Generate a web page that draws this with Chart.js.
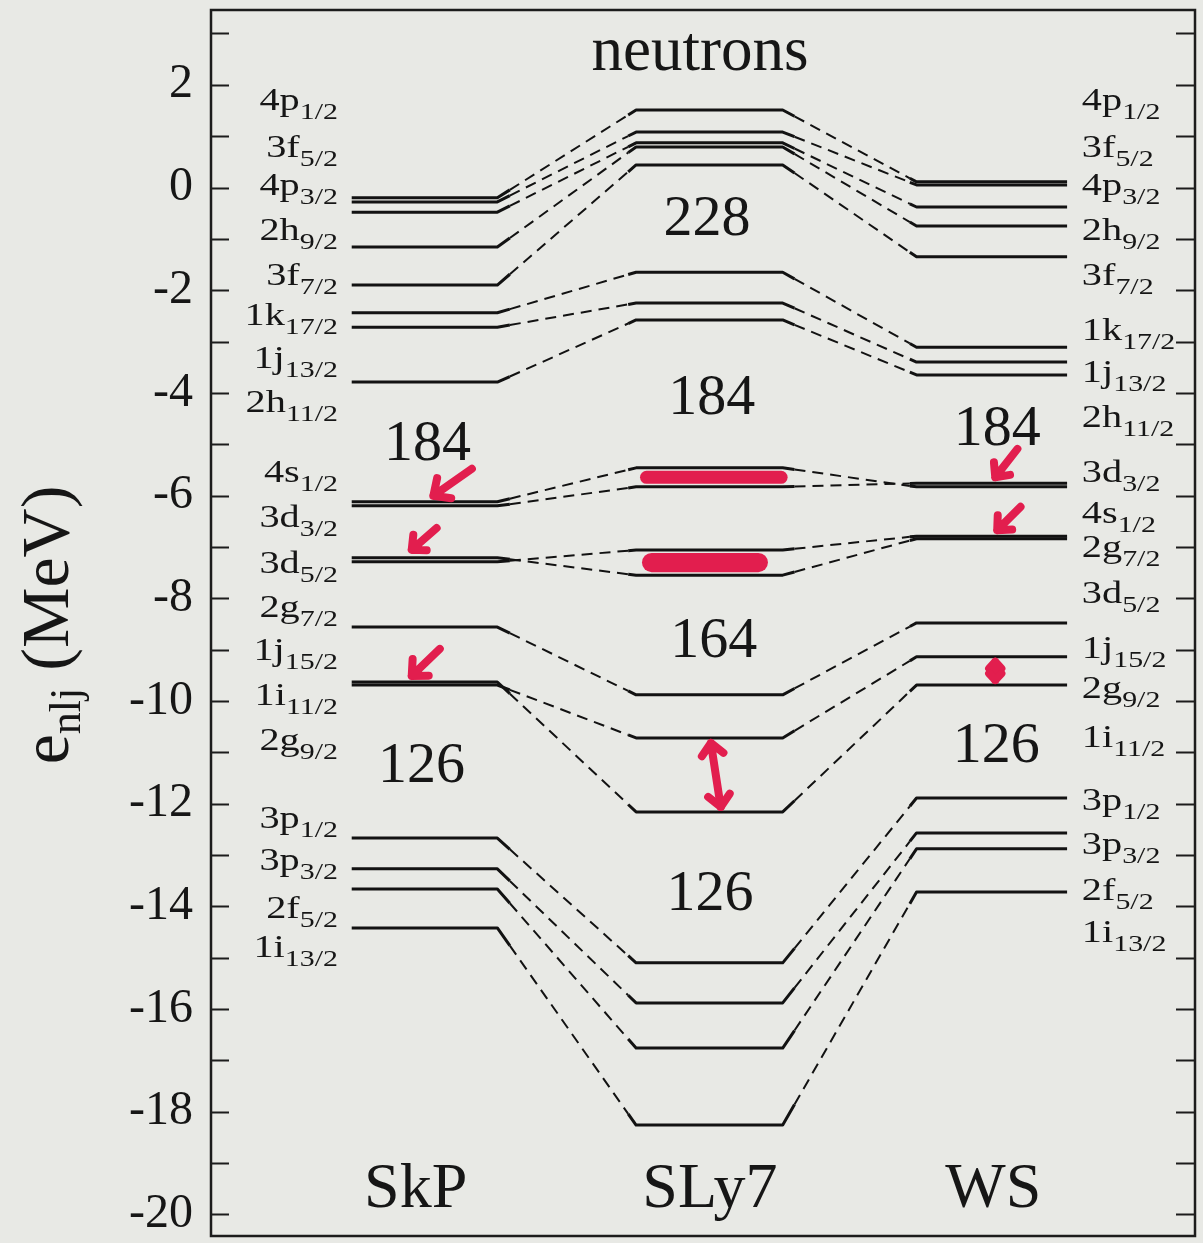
<!DOCTYPE html>
<html>
<head>
<meta charset="utf-8">
<title>Neutron single-particle levels</title>
<script src="https://cdn.jsdelivr.net/npm/chart.js@4.4.1/dist/chart.umd.min.js"></script>
<style>
  html, body { margin: 0; padding: 0; background: #e8e9e5; }
  #wrap { width: 1203px; height: 1243px; position: relative; }
</style>
</head>
<body>
<div id="wrap"><canvas id="c"></canvas></div>
<script>
// ---- data: neutron single-particle energies e_nlj (MeV) ----
const models = ['SkP', 'SLy7', 'WS'];
const orbitals = ['4p1/2', '3f5/2', '4p3/2', '2h9/2', '3f7/2', '1k17/2', '1j13/2', '2h11/2',
                  '4s1/2', '3d3/2', '3d5/2', '2g7/2', '1j15/2', '1i11/2', '2g9/2',
                  '3p1/2', '3p3/2', '2f5/2', '1i13/2'];
const eSkP  = [-0.20, -0.28, -0.48, -1.16, -1.90, -2.44, -2.72, -3.79,
               -6.12, -6.20, -7.21, -7.29, -8.56, -9.63, -9.69,
               -12.67, -13.27, -13.66, -14.42];
const eSLy7 = [1.51, 1.08, 0.87, 0.79, 0.44, -1.65, -2.25, -2.58,
               -5.46, -5.83, -7.55, -7.06, -9.88, -12.16, -10.72,
               -15.10, -15.88, -16.76, -18.26];
const eWS   = [0.11, 0.05, -0.38, -0.75, -1.35, -3.11, -3.40, -3.65,
               -5.83, -5.76, -6.84, -6.79, -8.48, -9.69, -9.14,
               -11.89, -12.57, -12.88, -13.72];
// shell-gap particle numbers written in each column
const gapsSkP  = ['184', '126'];
const gapsSLy7 = ['228', '184', '164', '126'];
const gapsWS   = ['184', '126'];
// labelled axis values
const yTicks = [2, 0, -2, -4, -6, -8, -10, -12, -14, -16, -18, -20];
const yRange = [-20.42, 3.457];

// ---- layout ----
const energies = { SkP: eSkP, SLy7: eSLy7, WS: eWS };
const gaps = { SkP: gapsSkP, SLy7: gapsSLy7, WS: gapsWS };
const COL = { SkP: [1.43, 2.91], SLy7: [4.32, 5.81], WS: [7.17, 8.70] };   // level extents (x units)
const KINK = [[0.09, 0.057], [0.088, 0.05]];                                // bent ends, fraction of connector
const DASHED = [2, 6];                                                      // connector segments
const GAP_AT = {
  SkP:  [[2.20, -5.31], [2.14, -11.58]],
  SLy7: [[5.04, -0.93], [5.09, -4.41], [5.11, -9.14], [5.07, -14.07]],
  WS:   [[7.99, -5.01], [7.98, -11.19]]
};
const NAME_AT = { SkP: 2.08, SLy7: 5.07, WS: 7.95 };
const NAME_E = -19.85;
const TITLE_AT = [4.97, 2.29];
const LEFT_SLOTS  = [1.51, 0.59, -0.15, -1.02, -1.90, -2.68, -3.52, -4.37, -5.74, -6.61, -7.51,
                     -8.36, -9.20, -10.08, -10.95, -12.47, -13.29, -14.23, -14.99];
const RIGHT_SLOTS = [1.51, 0.59, -0.15, -1.02, -1.90, -2.97, -3.79, -4.67, -5.74, -6.53, -7.20,
                     -8.09, -9.16, -9.94, -10.90, -12.12, -12.99, -13.88, -14.70];
const LEFT_EDGE = 1.29, RIGHT_EDGE = 8.85;

// highlighted gaps and hand-drawn arrows
const bands = [
  { model: 'SLy7', upper: '4s1/2', lower: '3d3/2', x0: 4.36, x1: 5.86 },
  { model: 'SLy7', upper: '2g7/2', lower: '3d5/2', x0: 4.38, x1: 5.66 }
];
const arrows = [
  { model: 'SkP', level: '4s1/2', x: 2.26, len: 47, ang: -35, head: 18, lift: 6 },
  { model: 'SkP', level: '3d5/2', x: 2.04, len: 33, ang: -41, head: 15, lift: 8 },
  { model: 'SkP', level: '1i11/2', x: 2.04, len: 39, ang: -44, head: 17, lift: 6 },
  { model: 'WS',  level: '3d3/2', x: 7.97, len: 36, ang: -52, head: 15, lift: 6 },
  { model: 'WS',  level: '2g7/2', x: 7.99, len: 33, ang: -45, head: 15, lift: 6 }
];
const doubleArrows = [
  { model: 'SLy7', from: '2g9/2', to: '1i11/2', x0: 5.08, x1: 5.18, head: 16 },
  { model: 'WS',   from: '2g9/2', to: '1i11/2', x0: 7.97, x1: 7.97, head: 9 }
];

const SERIF = '"Liberation Serif", "Times New Roman", serif';
const INK = '#161616';
const RED = 'rgb(226, 30, 78)';

function lerp(p, q, t) { return { x: p.x + (q.x - p.x) * t, y: p.y + (q.y - p.y) * t }; }

// one polyline per orbital: level, bent end, dashed connector, bent end, level ...
function orbitalPath(i) {
  const pts = [];
  models.forEach((m, k) => {
    const e = energies[m][i];
    const a = { x: COL[m][0], y: e }, b = { x: COL[m][1], y: e };
    if (k > 0) {
      const prev = pts[pts.length - 1];
      const [t0, t1] = KINK[k - 1];
      pts.push(lerp(prev, a, t0), lerp(prev, a, 1 - t1));
    }
    pts.push(a, b);
  });
  return pts;
}

const datasets = orbitals.map((name, i) => ({
  label: name,
  data: orbitalPath(i),
  borderColor: '#121212',
  borderWidth: 3,
  pointRadius: 0,
  tension: 0,
  fill: false,
  borderJoinStyle: 'round',
  segment: {
    borderDash: ctx => DASHED.includes(ctx.p0DataIndex) ? [11, 7] : undefined,
    borderWidth: ctx => DASHED.includes(ctx.p0DataIndex) ? 2 : undefined
  }
}));

function textRun(ctx, parts, x, y, align, sx) {
  ctx.save();
  let w = 0;
  parts.forEach(p => { ctx.font = p.size + 'px ' + SERIF; p.w = ctx.measureText(p.t).width; w += p.w; });
  const start = align === 'right' ? x - w * sx : align === 'center' ? x - w * sx / 2 : x;
  ctx.translate(start, y);
  ctx.scale(sx, 1);
  ctx.fillStyle = INK;
  ctx.textAlign = 'left';
  ctx.textBaseline = 'alphabetic';
  let cx = 0;
  parts.forEach(p => { ctx.font = p.size + 'px ' + SERIF; ctx.fillText(p.t, cx, p.dy || 0); cx += p.w; });
  ctx.restore();
}

function levelLabel(name) {
  return [{ t: name.slice(0, 2), size: 31 }, { t: name.slice(2), size: 23, dy: 9 }];
}

function strokeArrow(ctx, tx, ty, angDeg, len, head) {
  const a = angDeg * Math.PI / 180;
  ctx.beginPath();
  ctx.moveTo(tx, ty);
  ctx.lineTo(tx + len * Math.cos(a), ty + len * Math.sin(a));
  [-0.75, 0.75].forEach(d => {
    ctx.moveTo(tx, ty);
    ctx.lineTo(tx + head * Math.cos(a + d), ty + head * Math.sin(a + d));
  });
  ctx.stroke();
}

const decor = {
  id: 'decor',
  beforeDatasetsDraw(chart) {
    const { ctx, scales: { x, y } } = chart;
    ctx.save();
    ctx.strokeStyle = RED;
    ctx.lineCap = 'round';
    bands.forEach(b => {
      const e = energies[b.model];
      const yu = y.getPixelForValue(e[orbitals.indexOf(b.upper)]);
      const yl = y.getPixelForValue(e[orbitals.indexOf(b.lower)]);
      const w = Math.max(2, yl - yu - 6);
      ctx.lineWidth = w;
      ctx.beginPath();
      ctx.moveTo(x.getPixelForValue(b.x0) + w / 2, (yu + yl) / 2);
      ctx.lineTo(x.getPixelForValue(b.x1) - w / 2, (yu + yl) / 2);
      ctx.stroke();
    });
    ctx.restore();
  },
  afterDatasetsDraw(chart) {
    const { ctx, chartArea: ca, scales: { x, y } } = chart;
    ctx.save();

    // frame and inward ticks
    ctx.strokeStyle = '#1c1c1c';
    ctx.lineWidth = 2.5;
    ctx.strokeRect(ca.left, ca.top, ca.right - ca.left, ca.bottom - ca.top);
    ctx.lineWidth = 2.2;
    ctx.beginPath();
    for (let v = -20; v <= 3; v++) {
      const py = Math.round(y.getPixelForValue(v)) + 0.5;
      ctx.moveTo(ca.left, py); ctx.lineTo(ca.left + 18, py);
      ctx.moveTo(ca.right, py); ctx.lineTo(ca.right - 19, py);
    }
    ctx.stroke();

    // orbital labels, ordered by energy on each side
    const order = arr => orbitals.map((n, i) => i).sort((a, b) => arr[b] - arr[a]);
    order(eSkP).forEach((i, k) => {
      textRun(ctx, levelLabel(orbitals[i]), x.getPixelForValue(LEFT_EDGE), y.getPixelForValue(LEFT_SLOTS[k]), 'right', 1.3);
    });
    order(eWS).forEach((i, k) => {
      textRun(ctx, levelLabel(orbitals[i]), x.getPixelForValue(RIGHT_EDGE), y.getPixelForValue(RIGHT_SLOTS[k]), 'left', 1.3);
    });

    // shell-gap numbers, model names, heading
    models.forEach(m => {
      gaps[m].forEach((g, k) => {
        const [gx, ge] = GAP_AT[m][k];
        textRun(ctx, [{ t: g, size: 58 }], x.getPixelForValue(gx), y.getPixelForValue(ge), 'center', 1);
      });
      textRun(ctx, [{ t: m, size: 64 }], x.getPixelForValue(NAME_AT[m]), y.getPixelForValue(NAME_E), 'center', 1);
    });
    textRun(ctx, [{ t: 'neutrons', size: 63 }], x.getPixelForValue(TITLE_AT[0]), y.getPixelForValue(TITLE_AT[1]), 'center', 1);

    // y-axis title e_nlj (MeV)
    ctx.save();
    ctx.translate(ca.left - 143, (ca.top + ca.bottom) / 2 + 2);
    ctx.rotate(-Math.PI / 2);
    textRun(ctx, [{ t: 'e', size: 68 }, { t: 'nlj', size: 44, dy: 12 }, { t: ' (MeV)', size: 68 }], 0, 0, 'center', 1);
    ctx.restore();

    // red arrows
    ctx.strokeStyle = RED;
    ctx.lineCap = 'round';
    ctx.lineJoin = 'round';
    ctx.lineWidth = 8;
    arrows.forEach(a => {
      const e = energies[a.model][orbitals.indexOf(a.level)];
      strokeArrow(ctx, x.getPixelForValue(a.x), y.getPixelForValue(e) - a.lift, a.ang, a.len, a.head);
    });
    doubleArrows.forEach(d => {
      const e = energies[d.model];
      const x0 = x.getPixelForValue(d.x0), x1 = x.getPixelForValue(d.x1);
      const y0 = y.getPixelForValue(e[orbitals.indexOf(d.from)]) + 5;
      const y1 = y.getPixelForValue(e[orbitals.indexOf(d.to)]) - 5;
      const ang = Math.atan2(y1 - y0, x1 - x0) * 180 / Math.PI;
      const len = Math.hypot(x1 - x0, y1 - y0);
      strokeArrow(ctx, x0, y0, ang, len, d.head);
      strokeArrow(ctx, x1, y1, ang + 180, 0, d.head);
    });
    ctx.restore();
  }
};

new Chart(document.getElementById('c'), {
  type: 'line',
  data: { datasets },
  options: {
    responsive: true,
    maintainAspectRatio: false,
    animation: false,
    layout: { padding: { left: 0, right: 8, top: 10, bottom: 7 } },
    plugins: { legend: { display: false }, tooltip: { enabled: false } },
    scales: {
      x: { type: 'linear', min: 0, max: 10, display: false },
      y: {
        type: 'linear',
        min: yRange[0],
        max: yRange[1],
        afterFit: s => { s.width = 211; s.paddingTop = 0; s.paddingBottom = 0; },
        afterBuildTicks: s => {
          const t = [];
          for (let v = -20; v <= 3; v++) t.push({ value: v });
          s.ticks = t;
        },
        ticks: {
          autoSkip: false,
          padding: 18,
          color: INK,
          font: { family: SERIF, size: 48 },
          callback: v => yTicks.includes(v) ? String(v) : ''
        },
        grid: { display: false, drawTicks: false },
        border: { display: false }
      }
    }
  },
  plugins: [decor]
});
</script>
</body>
</html>
